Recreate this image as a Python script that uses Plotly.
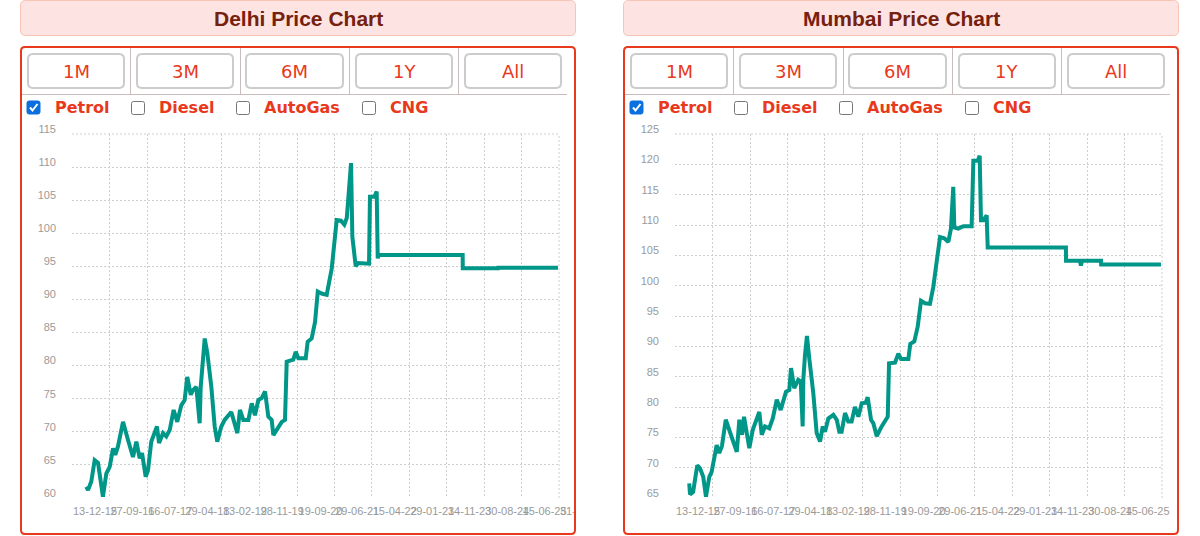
import plotly.graph_objects as go

W, H = 1200, 536

# ---------------- data ----------------
cities = ["Delhi", "Mumbai"]
range_buttons = ["1M", "3M", "6M", "1Y", "All"]
fuels = ["Petrol", "Diesel", "AutoGas", "CNG"]
fuel_checked = [True, False, False, False]

tick_dates = ["2015-12-13", "2016-09-27", "2017-07-16", "2018-04-29", "2019-02-13",
              "2019-11-28", "2020-09-19", "2021-06-29", "2022-04-15", "2023-01-29",
              "2023-11-14", "2024-08-30", "2025-06-15", "2026-03-31"]
tick_labels = ["13-12-15", "27-09-16", "16-07-17", "29-04-18", "13-02-19",
               "28-11-19", "19-09-20", "29-06-21", "15-04-22", "29-01-23",
               "14-11-23", "30-08-24", "15-06-25", "31-03-26"]

delhi_y_range = [60, 115]
mumbai_y_range = [65, 125]

delhi_dates = [
    "2016-04-01", "2016-04-15", "2016-05-10", "2016-06-05", "2016-07-01", "2016-08-08",
    "2016-09-03", "2016-09-29", "2016-10-25", "2016-11-11", "2016-12-02", "2017-01-10",
    "2017-02-17", "2017-03-28", "2017-04-23", "2017-05-19", "2017-06-06", "2017-07-04",
    "2017-07-22", "2017-08-16", "2017-09-29", "2017-10-15", "2017-11-15", "2017-12-10",
    "2018-01-06", "2018-02-05", "2018-03-05", "2018-04-05", "2018-05-01", "2018-05-21",
    "2018-06-17", "2018-07-04", "2018-07-30", "2018-08-25", "2018-09-02", "2018-09-20",
    "2018-10-03", "2018-10-23", "2018-11-23", "2018-12-19", "2019-01-08", "2019-02-08",
    "2019-03-06", "2019-04-26", "2019-05-23", "2019-06-12", "2019-07-02", "2019-07-28",
    "2019-09-05", "2019-10-01", "2019-10-26", "2019-11-21", "2019-12-17", "2020-01-12",
    "2020-02-06", "2020-03-03", "2020-03-16", "2020-04-11", "2020-05-20", "2020-06-14",
    "2020-06-27", "2020-08-17", "2020-09-05", "2020-09-25", "2020-11-21", "2020-12-06",
    "2021-01-06", "2021-02-01", "2021-02-22", "2021-03-24", "2021-05-02", "2021-06-10",
    "2021-07-05", "2021-07-18", "2021-08-20", "2021-09-15", "2021-10-04", "2021-11-06",
    "2021-11-16", "2021-12-12", "2022-01-01", "2022-03-25", "2022-04-01", "2022-05-05",
    "2022-05-23", "2022-05-31", "2022-06-05", "2024-03-17", "2024-03-18", "2024-12-15",
    "2024-12-16", "2026-03-23"]
delhi_petrol = [
    61.7, 61.2, 62.5, 65.7, 65.3, 60.2,
    63.7, 64.7, 67.5, 66.5, 67.8, 71.5,
    68.8, 66.2, 68.5, 66.0, 66.8, 63.2,
    64.2, 68.5, 70.8, 68.3, 69.8, 69.3,
    70.3, 73.3, 71.5, 74.0, 74.8, 78.3,
    75.6, 76.3, 76.8, 71.3, 76.8, 80.6,
    84.1, 81.9, 76.8, 70.8, 68.5, 70.8,
    71.8, 73.0, 71.0, 69.8, 73.3, 71.8,
    71.8, 74.3, 72.5, 74.8, 75.1, 76.1,
    72.3, 71.8, 69.5, 70.3, 71.5, 71.8,
    80.6, 80.9, 82.1, 81.1, 81.1, 83.6,
    84.1, 86.6, 91.2, 90.9, 90.7, 94.7,
    99.0, 102.0, 101.9, 101.3, 102.3, 110.6,
    99.5, 95.0, 95.5, 95.4, 105.5, 105.5,
    106.3, 96.2, 96.7, 96.7, 94.7, 94.7,
    94.8, 94.8]

mumbai_dates = [
    "2016-04-01", "2016-04-07", "2016-05-01", "2016-06-02", "2016-06-23", "2016-07-18",
    "2016-08-08", "2016-09-03", "2016-09-21", "2016-10-30", "2016-11-19", "2016-12-10",
    "2017-01-08", "2017-02-10", "2017-04-03", "2017-04-23", "2017-05-14", "2017-05-29",
    "2017-06-19", "2017-07-09", "2017-08-04", "2017-08-30", "2017-09-24", "2017-10-13",
    "2017-11-07", "2017-12-10", "2018-01-06", "2018-02-06", "2018-03-08", "2018-04-18",
    "2018-05-14", "2018-05-27", "2018-06-21", "2018-07-22", "2018-08-10", "2018-08-25",
    "2018-08-30", "2018-09-12", "2018-09-27", "2018-10-15", "2018-11-15", "2018-12-11",
    "2019-01-06", "2019-01-27", "2019-02-13", "2019-03-11", "2019-04-19", "2019-05-15",
    "2019-06-04", "2019-06-22", "2019-07-18", "2019-08-12", "2019-09-07", "2019-10-03",
    "2019-10-29", "2019-11-24", "2019-12-25", "2020-01-09", "2020-02-04", "2020-02-22",
    "2020-03-19", "2020-04-26", "2020-06-12", "2020-06-22", "2020-08-07", "2020-09-02",
    "2020-09-23", "2020-11-18", "2020-12-03", "2021-01-03", "2021-01-29", "2021-02-24",
    "2021-03-27", "2021-05-04", "2021-05-30", "2021-06-25", "2021-07-21", "2021-08-23",
    "2021-09-23", "2021-10-13", "2021-10-31", "2021-11-08", "2021-12-09", "2022-01-17",
    "2022-03-22", "2022-04-04", "2022-05-08", "2022-05-23", "2022-06-02", "2022-06-20",
    "2022-07-16", "2022-07-24", "2024-03-19", "2024-03-20", "2024-07-05", "2024-07-13",
    "2024-07-21", "2024-12-15", "2024-12-16", "2026-03-23"]
mumbai_petrol = [
    67.4, 65.6, 66.0, 70.4, 69.9, 68.5,
    65.2, 68.5, 69.3, 73.7, 72.4, 73.6,
    77.9, 75.7, 72.6, 77.9, 75.4, 78.4,
    75.7, 73.2, 76.2, 77.9, 79.2, 75.4,
    76.8, 76.5, 78.1, 81.2, 79.5, 82.5,
    82.8, 86.4, 83.1, 84.5, 84.2, 76.8,
    84.5, 88.6, 91.7, 88.0, 82.3, 75.7,
    74.3, 76.8, 75.9, 78.1, 78.7, 77.9,
    75.9, 75.9, 79.0, 77.6, 77.6, 80.0,
    78.4, 80.6, 80.7, 81.6, 77.9, 77.3,
    75.2, 76.8, 78.4, 87.2, 87.3, 88.8,
    87.9, 87.9, 90.4, 90.8, 93.2, 97.5,
    97.1, 97.0, 99.8, 104.0, 108.0, 107.8,
    107.2, 109.4, 116.3, 109.6, 109.4, 109.8,
    109.8, 120.6, 120.6, 121.4, 110.8, 110.8,
    111.6, 106.3, 106.3, 104.1, 104.1, 103.3,
    104.1, 104.1, 103.5, 103.5]

series = {"Delhi": (delhi_dates, delhi_petrol, delhi_y_range),
          "Mumbai": (mumbai_dates, mumbai_petrol, mumbai_y_range)}

# ---------------- styling helpers ----------------
LINE_COLOR = "#009688"
RED = "#e8391c"
TITLE_COLOR = "#76200e"
GRID = "#cfcfcf"
TICK_COLOR = "#9a9a9a"


def fx(x):
    return x / W


def fy(y):
    return 1 - y / H


def P(x, y):
    return f"{fx(x):.6f},{fy(y):.6f}"


def rrect(x0, y0, x1, y1, r):
    return (f"M {P(x0 + r, y0)} L {P(x1 - r, y0)} Q {P(x1, y0)} {P(x1, y0 + r)} "
            f"L {P(x1, y1 - r)} Q {P(x1, y1)} {P(x1 - r, y1)} "
            f"L {P(x0 + r, y1)} Q {P(x0, y1)} {P(x0, y1 - r)} "
            f"L {P(x0, y0 + r)} Q {P(x0, y0)} {P(x0 + r, y0)} Z")


fig = go.Figure()
shapes = []
annotations = []

PANEL_OFFSETS = [0, 603]
PLOT_X = (72, 559)
PLOT_Y = (134, 498)

for i, (city, ox) in enumerate(zip(cities, PANEL_OFFSETS)):
    dates, vals, yr = series[city]
    xa = "x" if i == 0 else f"x{i + 1}"
    ya = "y" if i == 0 else f"y{i + 1}"
    fig.add_trace(go.Scatter(x=dates, y=vals, mode="lines", xaxis=xa, yaxis=ya,
                             line=dict(color=LINE_COLOR, width=4), showlegend=False,
                             hoverinfo="x+y"))
    axis_key = "xaxis" if i == 0 else f"xaxis{i + 1}"
    yaxis_key = "yaxis" if i == 0 else f"yaxis{i + 1}"
    fig.layout[axis_key] = dict(
        domain=[fx(PLOT_X[0] + ox), fx(PLOT_X[1] + ox)], anchor=ya,
        type="date", range=[tick_dates[0], tick_dates[-1]],
        tickmode="array", tickvals=tick_dates, ticktext=tick_labels, tickangle=0,
        showgrid=True, gridcolor=GRID, griddash="2px,2px", gridwidth=1,
        showline=False, zeroline=False, ticks="",
        tickfont=dict(family="Liberation Sans, Arial", size=11, color=TICK_COLOR),
        ticklabelshift=23, ticklabelstandoff=5, automargin=False, fixedrange=True)
    fig.layout[yaxis_key] = dict(
        domain=[fy(PLOT_Y[1]), fy(PLOT_Y[0])], anchor=xa,
        range=yr, dtick=5, tick0=0,
        showgrid=True, gridcolor=GRID, griddash="2px,2px", gridwidth=1,
        showline=False, zeroline=False, ticks="",
        tickfont=dict(family="Liberation Sans, Arial", size=11, color=TICK_COLOR),
        ticklabelshift=-5, ticklabelstandoff=15, automargin=False, fixedrange=True)

    # dotted frame on top and right edges of the plot area
    shapes.append(dict(type="line", xref=f"{xa} domain", yref=f"{ya} domain", layer="below",
                       x0=0, x1=1, y0=1, y1=1, line=dict(color=GRID, width=1, dash="2px,2px")))
    shapes.append(dict(type="line", xref=f"{xa} domain", yref=f"{ya} domain", layer="below",
                       x0=1, x1=1, y0=0, y1=1, line=dict(color=GRID, width=1, dash="2px,2px")))

    # cover tick-label overflow outside the red box
    shapes.append(dict(type="rect", xref="paper", yref="paper", layer="above",
                       x0=fx(574 + ox), x1=fx(min(623 + ox, W)), y0=fy(530), y1=fy(496),
                       fillcolor="white", line=dict(width=0)))
    # title box
    shapes.append(dict(type="path", xref="paper", yref="paper", layer="above",
                       path=rrect(20.5 + ox, 0.5, 575.5 + ox, 35.5, 5),
                       fillcolor="#fde4e3", line=dict(color="#f8c4b4", width=1)))
    annotations.append(dict(xref="paper", yref="paper", x=fx(298 + ox), y=fy(18),
                            text=f"<b>{city} Price Chart</b>", showarrow=False,
                            xanchor="center", yanchor="middle",
                            font=dict(family="Liberation Sans, Arial", size=21, color=TITLE_COLOR)))
    # red box
    shapes.append(dict(type="path", xref="paper", yref="paper", layer="above",
                       path=rrect(21 + ox, 47, 575 + ox, 534, 4),
                       line=dict(color=RED, width=2)))
    # buttons row grid lines
    shapes.append(dict(type="line", xref="paper", yref="paper", layer="above",
                       x0=fx(22 + ox), x1=fx(567 + ox), y0=fy(94.5), y1=fy(94.5),
                       line=dict(color="#c8bcbc", width=1)))
    for sx in [130.5, 240.5, 349.5, 458.5]:
        shapes.append(dict(type="line", xref="paper", yref="paper", layer="above",
                           x0=fx(sx + ox), x1=fx(sx + ox), y0=fy(48), y1=fy(94.5),
                           line=dict(color="#c8bcbc", width=1)))
    bx = [(28, 124), (137, 233), (246, 343), (356, 452), (465, 561)]
    for (b0, b1), lab in zip(bx, range_buttons):
        shapes.append(dict(type="path", xref="paper", yref="paper", layer="above",
                           path=rrect(b0 + ox, 54, b1 + ox, 88, 5),
                           fillcolor="white", line=dict(color="#cccccc", width=2)))
        annotations.append(dict(xref="paper", yref="paper", x=fx((b0 + b1) / 2 + ox), y=fy(72),
                                text=lab, showarrow=False, xanchor="center", yanchor="middle",
                                font=dict(family="DejaVu Sans", size=18, color=RED)))
    # fuel checkboxes
    cb_x = [27, 131, 236, 362]
    lab_x = [53, 157, 262, 388]
    for cx, lx, fuel, chk in zip(cb_x, lab_x, fuels, fuel_checked):
        if chk:
            shapes.append(dict(type="path", xref="paper", yref="paper", layer="above",
                               path=rrect(cx + ox, 101, cx + 13 + ox, 114, 2),
                               fillcolor="#0b6fe0", line=dict(color="#0b6fe0", width=1)))
            shapes.append(dict(type="path", xref="paper", yref="paper", layer="above",
                               path=f"M {P(cx + 3 + ox, 107.5)} L {P(cx + 5.5 + ox, 110.5)} L {P(cx + 10.5 + ox, 104)}",
                               line=dict(color="white", width=2)))
        else:
            shapes.append(dict(type="path", xref="paper", yref="paper", layer="above",
                               path=rrect(cx + 0.5 + ox, 101.5, cx + 13.5 + ox, 114.5, 2),
                               fillcolor="white", line=dict(color="#767676", width=1)))
        annotations.append(dict(xref="paper", yref="paper", x=fx(lx + ox), y=fy(107.5),
                                text=f"<b>{fuel}</b>", showarrow=False,
                                xanchor="left", yanchor="middle",
                                font=dict(family="DejaVu Sans", size=16, color=RED)))

fig.update_layout(
    width=W, height=H, autosize=False,
    margin=dict(l=0, r=0, t=0, b=0, pad=0),
    paper_bgcolor="white", plot_bgcolor="white",
    shapes=shapes, annotations=annotations, showlegend=False,
)

fig.write_html("out.html", config={"displayModeBar": False, "staticPlot": False},
               post_script="document.body.style.margin='0';document.body.style.overflow='hidden';")
